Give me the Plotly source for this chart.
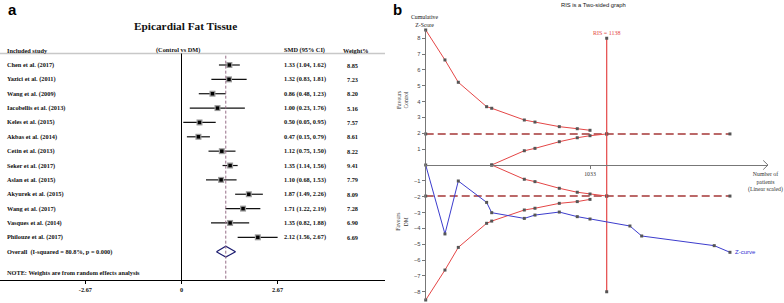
import plotly.graph_objects as go

# ---------------- Panel a data (forest plot) ----------------
studies = ["Chen et al. (2017)", "Yazici et al. (2011)", "Wang et al. (2009)",
           "Iacobellis et al. (2013)", "Keles et al. (2015)", "Akbas et al. (2014)",
           "Cetin et al. (2013)", "Seker et al. (2017)", "Aslan et al. (2015)",
           "Akyurek et al. (2015)", "Wang et al. (2017)", "Vasques et al. (2014)",
           "Philouze et al. (2017)"]
smd = [1.33, 1.32, 0.86, 1.00, 0.50, 0.47, 1.12, 1.35, 1.10, 1.87, 1.71, 1.35, 2.12]
ci_lo = [1.04, 0.83, 0.48, 0.23, 0.05, 0.15, 0.75, 1.14, 0.68, 1.49, 1.22, 0.82, 1.56]
ci_hi = [1.62, 1.81, 1.23, 1.76, 0.95, 0.79, 1.50, 1.56, 1.53, 2.26, 2.19, 1.88, 2.67]
weights = [8.85, 7.23, 8.20, 5.16, 7.57, 8.61, 8.22, 9.41, 7.79, 8.09, 7.28, 6.90, 6.69]
overall_est, overall_lo, overall_hi = 1.23, 0.97, 1.50
overall_label = "Overall  (I-squared = 80.8%, p = 0.000)"
forest_ticks = [-2.67, 0, 2.67]

# ---------------- Panel b data (TSA) ----------------
patients = [0, 121, 205, 383, 415, 620, 687, 840, 953, 1033, 1284, 1358, 1814, 1913]
z_curve = [0, -4.35, -1.01, -2.36, -3.01, -3.37, -3.16, -2.97, -3.26, -3.41, -3.85, -4.48, -5.09, -5.51]
bound_x = [0, 121, 205, 383, 415, 620, 687, 840, 953, 1033]
bound_upper = [8.52, 6.63, 5.22, 3.68, 3.58, 2.84, 2.71, 2.42, 2.29, 2.19]
bound_lower = [-8.52, -6.63, -5.20, -3.68, -3.54, -2.84, -2.73, -2.42, -2.31, -2.17]
fut_x = [415, 620, 687, 840, 953, 1033, 1138]
fut_upper = [0, 0.90, 1.05, 1.47, 1.72, 1.85, 1.96]
fut_lower = [0, -0.90, -1.05, -1.47, -1.72, -1.83, -1.96]
conv_z = 1.96
ris = 1138
ris_span = [8, -8]
last_patients = 1913
tsa_yticks = [-8, -7, -6, -5, -4, -3, -2, -1, 1, 2, 3, 4, 5, 6, 7, 8]
x_tick = 1033

W, H = 784, 303
def px(x): return x / W
def py(y): return 1 - y / H

SERIF = "Liberation Serif"
SANS = "Liberation Sans"

rows = list(range(1, len(studies) + 1))
overall_row = len(studies) + 1
note_row = overall_row + 1.46

fig = go.Figure()

# ---- forest: CI whiskers with gray weight boxes ----
fig.add_trace(go.Scatter(
    x=smd, y=rows, mode="markers", xaxis="x", yaxis="y",
    marker=dict(symbol="square", size=6, color="#9a9a9a"),
    error_x=dict(type="data", symmetric=False,
                 array=[h - s for h, s in zip(ci_hi, smd)],
                 arrayminus=[s - l for s, l in zip(smd, ci_lo)],
                 color="#111111", thickness=1.2, width=0),
    cliponaxis=False, hoverinfo="skip"))
fig.add_trace(go.Scatter(
    x=smd, y=rows, mode="markers", xaxis="x", yaxis="y",
    marker=dict(symbol="square", size=3.5, color="#000000"),
    cliponaxis=False, hoverinfo="skip"))
# overall diamond
dh = 0.38
fig.add_trace(go.Scatter(
    x=[overall_lo, overall_est, overall_hi, overall_est, overall_lo],
    y=[overall_row, overall_row - dh, overall_row, overall_row + dh, overall_row],
    mode="lines", fill="toself", fillcolor="white",
    line=dict(color="#1c1c70", width=1.2), xaxis="x", yaxis="y",
    cliponaxis=False, hoverinfo="skip"))

# ---- TSA traces ----
red = "rgb(228,70,70)"
mk = dict(symbol="square", size=3, color="#555555")
for sgn in (1, -1):
    fig.add_trace(go.Scatter(x=[0, ris, last_patients], y=[sgn * conv_z] * 3, mode="lines+markers",
                             line=dict(color="rgb(165,55,55)", width=1.4, dash="8px,4px"),
                             marker=mk, xaxis="x2", yaxis="y2", cliponaxis=False, hoverinfo="skip"))
for ys in (bound_upper, bound_lower):
    fig.add_trace(go.Scatter(x=bound_x, y=ys, mode="lines+markers",
                             line=dict(color=red, width=1), marker=mk,
                             xaxis="x2", yaxis="y2", cliponaxis=False, hoverinfo="skip"))
for ys in (fut_upper, fut_lower):
    fig.add_trace(go.Scatter(x=fut_x, y=ys, mode="lines+markers",
                             line=dict(color=red, width=1), marker=mk,
                             xaxis="x2", yaxis="y2", cliponaxis=False, hoverinfo="skip"))
fig.add_trace(go.Scatter(x=[ris, ris], y=ris_span, mode="lines+markers",
                         line=dict(color=red, width=1.2), marker=mk,
                         xaxis="x2", yaxis="y2", cliponaxis=False, hoverinfo="skip"))
fig.add_trace(go.Scatter(x=patients, y=z_curve, mode="lines+markers",
                         line=dict(color="rgb(60,60,205)", width=1), marker=mk,
                         xaxis="x2", yaxis="y2", cliponaxis=False, hoverinfo="skip"))

# ---------------- shapes ----------------
shapes = []
shapes.append(dict(type="line", xref="paper", yref="y", x0=0, x1=px(385), y0=0.2, y1=0.2,
                   line=dict(color="#c8c8c8", width=1.5)))
shapes.append(dict(type="line", xref="x", yref="y", x0=0, x1=0, y0=0.2, y1=15.97,
                   line=dict(color="#000000", width=1)))
shapes.append(dict(type="line", xref="x", yref="y", x0=overall_est, x1=overall_est,
                   y0=0.35, y1=15.97, line=dict(color="rgb(150,110,135)", width=1, dash="3px,2px")))
shapes.append(dict(type="path", xref="x2", yref="y2",
                   path="M 2122,0.29 L 2152,0 L 2122,-0.29",
                   line=dict(color="#777777", width=1)))

# ---------------- annotations ----------------
ann = []
def A(text, x, y, xref="paper", yref="paper", size=6.3, font=SERIF, color="#111111",
      xanchor="center", yanchor="middle", angle=0):
    ann.append(dict(text=text, x=x, y=y, xref=xref, yref=yref, showarrow=False,
                    font=dict(family=font, size=size, color=color),
                    xanchor=xanchor, yanchor=yanchor, textangle=angle))

A("<b>a</b>", px(12), py(10), size=15, font=SANS, color="#000")
A("<b>b</b>", px(397), py(9), size=15, font=SANS, color="#000")
A("<b>Epicardial Fat Tissue</b>", px(185), py(26), size=11.3)
A("<b>Included study</b>", px(5), py(50), xanchor="left")
A("<b>(Control vs DM)</b>", px(178), py(50))
A("<b>SMD (95% CI)</b>", px(281.7), py(50), xanchor="left")
A("<b>Weight%</b>", px(340.7), py(50), xanchor="left")
for r, name, s, l, h, w in zip(rows, studies, smd, ci_lo, ci_hi, weights):
    A(f"<b>{name}</b>", px(5), r, yref="y", xanchor="left")
    A(f"<b>{s:.2f} ({l:.2f}, {h:.2f})</b>", px(281.7), r, yref="y", xanchor="left")
    A(f"<b>{w:.2f}</b>", px(345), r, yref="y", xanchor="left")
A(f"<b>{overall_label}</b>", px(5), overall_row, yref="y", xanchor="left")
A("<b>NOTE: Weights are from random effects analysis</b>", px(5), note_row, yref="y", xanchor="left")

A("RIS is a Two-sided graph", px(593), py(5), size=5.8, font=SANS)
A("Cumulative<br>Z-Score", px(424), py(21), size=5.8)
A(f"RIS = {ris}", px(607), py(33), size=6, color=red)
A("Number of<br>patients<br>(Linear scaled)", px(765), py(181.7), size=5.8, color="#333")
A("Favours<br>Control", px(402), py(100), size=5.6, color="#333", angle=-90)
A("Favours<br>DM", px(402), py(221.7), size=5.6, color="#333", angle=-90)
A("Z-curve", last_patients, z_curve[-1], xref="x2", yref="y2", size=6, font=SANS,
  color="rgb(50,50,210)", xanchor="left")
ann[-1]["xshift"] = 3

fig.update_layout(
    width=W, height=H, margin=dict(l=0, r=0, t=0, b=0),
    paper_bgcolor="white", plot_bgcolor="white", showlegend=False,
    xaxis=dict(domain=[0, 385 / W], range=[-181.5 / 36, (385 - 181.5) / 36],
               showline=True, linecolor="#000", linewidth=1, showgrid=False, zeroline=False,
               tickvals=forest_ticks, ticktext=[f"<b>{t:g}</b>" for t in forest_ticks],
               ticks="outside", ticklen=3, tickcolor="#000",
               tickfont=dict(family=SERIF, size=6.3, color="#111"), anchor="y", fixedrange=True),
    yaxis=dict(domain=[1 - 280 / H, 1], range=[15.972, -3.5265], visible=False,
               anchor="x", fixedrange=True),
    xaxis2=dict(domain=[425.7 / W, 768 / W], range=[0, (768 - 425.7) / 0.15905],
                anchor="free", position=py(165), showline=True, linecolor="#777", linewidth=1,
                showgrid=False, zeroline=False, tickvals=[x_tick], ticktext=[str(x_tick)],
                ticks="outside", ticklen=3, tickcolor="#777",
                tickfont=dict(family=SERIF, size=5.8, color="#333"), fixedrange=True),
    yaxis2=dict(domain=[1 - 300 / H, 1 - 30 / H], range=[-8.52, 8.52], anchor="x2",
                showline=True, linecolor="#777", linewidth=1, showgrid=False, zeroline=False,
                tickvals=tsa_yticks, ticks="outside", ticklen=3, tickcolor="#777",
                tickfont=dict(family=SANS, size=5.8, color="#444"), fixedrange=True),
    shapes=shapes, annotations=ann,
)

fig.write_html("out.html", config={"displayModeBar": False},
               post_script="document.body.style.margin='0';document.body.style.overflow='hidden';")
